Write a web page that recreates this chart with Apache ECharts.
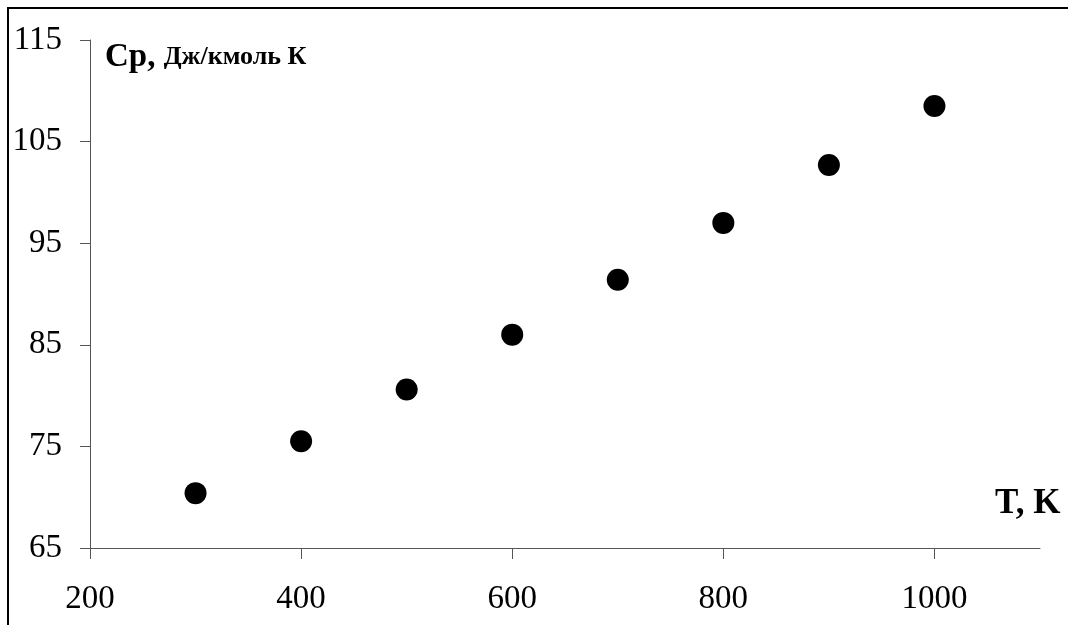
<!DOCTYPE html>
<html>
<head>
<meta charset="utf-8">
<script src="https://cdn.jsdelivr.net/npm/echarts@6/dist/echarts.min.js"></script>
<style>
  html, body { margin: 0; padding: 0; background: #fff; }
  #chart { width: 1068px; height: 625px; }
</style>
</head>
<body>
<div id="chart"></div>
<script>
  // температура, K
  const temps = [300, 400, 500, 600, 700, 800, 900, 1000];
  // теплоёмкость Cp, Дж/кмоль K
  const cp = [70.4, 75.5, 80.6, 86.0, 91.4, 97.0, 102.7, 108.5];

  const points = temps.map((t, i) => [t, cp[i]]);
  const font = "'Liberation Serif', 'Times New Roman', serif";

  const chart = echarts.init(document.getElementById("chart"));
  chart.setOption({
    animation: false,
    backgroundColor: "#fff",
    grid: { left: 90, top: 40, right: 28, bottom: 77 },
    xAxis: {
      type: "value",
      min: 200,
      max: 1100,
      interval: 200,
      axisLine: { lineStyle: { color: "#555", width: 1 } },
      axisTick: { length: 11, lineStyle: { color: "#555" } },
      splitLine: { show: false },
      axisLabel: {
        margin: 35,
        fontFamily: font,
        fontSize: 33,
        color: "#000",
        showMaxLabel: false,
        formatter: (v) => String(v),
      },
    },
    yAxis: {
      type: "value",
      min: 65,
      max: 115,
      interval: 10,
      axisLine: { show: true, lineStyle: { color: "#555", width: 1 } },
      axisTick: { show: true, length: 10, lineStyle: { color: "#555" } },
      splitLine: { show: false },
      axisLabel: {
        margin: 28,
        fontFamily: font,
        fontSize: 33,
        color: "#000",
        padding: [0, 0, 5, 0],
      },
    },
    graphic: [
      {
        type: "rect",
        shape: { x: 8, y: 8, width: 1100, height: 700 },
        style: { fill: "none", stroke: "#000", lineWidth: 2 },
        silent: true,
      },
      {
        type: "text",
        left: 105,
        top: 41,
        style: {
          text: "{a|Cp, }{b|Дж/кмоль К}",
          rich: {
            a: { fontFamily: font, fontSize: 33, fontWeight: "bold", fill: "#000" },
            b: { fontFamily: font, fontSize: 26, fontWeight: "bold", fill: "#000" },
          },
        },
      },
      {
        type: "text",
        left: 995,
        top: 486,
        style: {
          text: "T, K",
          fontFamily: font,
          fontSize: 35,
          fontWeight: "bold",
          fill: "#000",
        },
      },
    ],
    series: [
      {
        type: "scatter",
        data: points,
        symbol: "circle",
        symbolSize: 22,
        itemStyle: { color: "#000", opacity: 1 },
      },
    ],
  });
</script>
</body>
</html>
